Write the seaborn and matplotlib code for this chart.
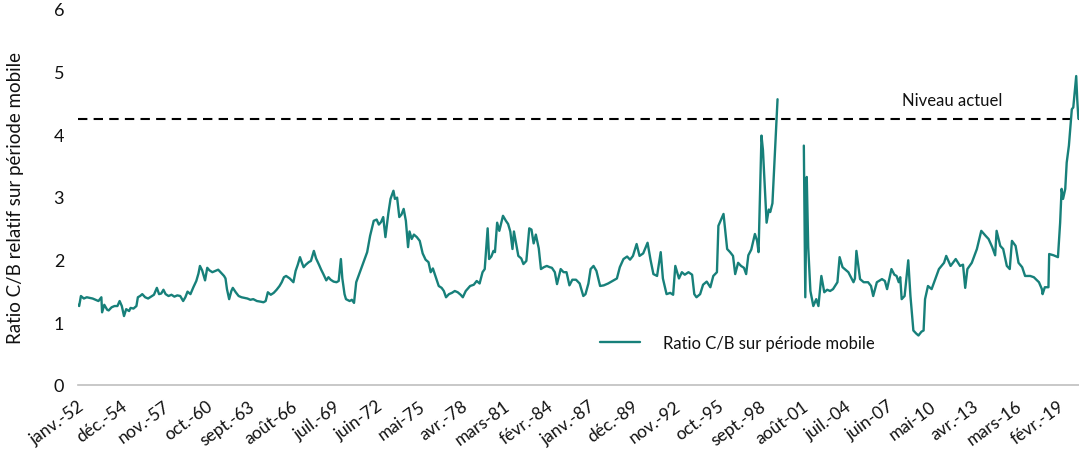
import numpy as np
import pandas as pd
import matplotlib
matplotlib.use("Agg")
import matplotlib.pyplot as plt
from matplotlib.lines import Line2D
import seaborn as sns

# ---------------- data (decimal years, ratio values) ----------------
dates_1950s_60s = [1952.00, 1952.08, 1952.2, 1952.4, 1952.6, 1952.8, 1953.0, 1953.2, 1953.4, 1953.6,
                   1953.65, 1953.8, 1954.0, 1954.1, 1954.3, 1954.5, 1954.7, 1954.85, 1955.0, 1955.15,
                   1955.3, 1955.5, 1955.6, 1955.8, 1956.0, 1956.1, 1956.25, 1956.4, 1956.6, 1956.8,
                   1957.0, 1957.2, 1957.4, 1957.55, 1957.7, 1957.85, 1958.0, 1958.2, 1958.4, 1958.6,
                   1958.8, 1959.0, 1959.2, 1959.35, 1959.5, 1959.7, 1959.9, 1960.1, 1960.25, 1960.35,
                   1960.5, 1960.7, 1960.85, 1961.0, 1961.2, 1961.4, 1961.6, 1961.8, 1962.0, 1962.1,
                   1962.2, 1962.35, 1962.5, 1962.6, 1962.8, 1963.0, 1963.2, 1963.4, 1963.6, 1963.8,
                   1964.0, 1964.25, 1964.5, 1964.7, 1964.85, 1965.0, 1965.2, 1965.4, 1965.6, 1965.8,
                   1965.95, 1966.1, 1966.25, 1966.5, 1966.75, 1966.9, 1967.05, 1967.2, 1967.35, 1967.45,
                   1967.6, 1967.8, 1967.95, 1968.15, 1968.3, 1968.5, 1968.65, 1968.8, 1969.0, 1969.15,
                   1969.3, 1969.5, 1969.7, 1969.85]
ratio_1950s_60s = [1.28, 1.26, 1.42, 1.38, 1.40, 1.39, 1.38, 1.36, 1.34, 1.40,
                   1.16, 1.28, 1.20, 1.19, 1.24, 1.26, 1.26, 1.34, 1.26, 1.10,
                   1.21, 1.18, 1.23, 1.22, 1.26, 1.40, 1.42, 1.45, 1.40, 1.38,
                   1.41, 1.44, 1.55, 1.45, 1.46, 1.52, 1.45, 1.42, 1.44, 1.41,
                   1.43, 1.42, 1.34, 1.40, 1.49, 1.45, 1.56, 1.66, 1.78, 1.90,
                   1.83, 1.67, 1.87, 1.83, 1.80, 1.82, 1.84, 1.79, 1.74, 1.70,
                   1.53, 1.37, 1.50, 1.55, 1.48, 1.42, 1.40, 1.39, 1.38, 1.36,
                   1.37, 1.34, 1.33, 1.32, 1.34, 1.48, 1.44, 1.47, 1.52, 1.58,
                   1.64, 1.72, 1.74, 1.70, 1.64, 1.82, 1.92, 2.04, 1.94, 1.88,
                   1.92, 1.96, 1.98, 2.14, 2.02, 1.92, 1.84, 1.77, 1.67, 1.72,
                   1.68, 1.65, 1.64, 1.66]

dates_1970s_80s = [1970.0, 1970.1, 1970.25, 1970.35, 1970.6, 1970.75, 1970.9, 1971.05, 1971.3, 1971.55,
                   1971.8, 1972.0, 1972.25, 1972.45, 1972.6, 1972.75, 1972.9, 1973.05, 1973.25, 1973.4,
                   1973.6, 1973.7, 1973.85, 1974.0, 1974.15, 1974.3, 1974.45, 1974.6, 1974.7, 1974.85,
                   1975.0, 1975.2, 1975.4, 1975.6, 1975.8, 1976.0, 1976.15, 1976.3, 1976.5, 1976.7,
                   1976.9, 1977.05, 1977.2, 1977.4, 1977.6, 1977.8, 1978.0, 1978.2, 1978.35, 1978.55,
                   1978.7, 1978.85, 1979.1, 1979.3, 1979.5, 1979.7, 1979.85, 1980.05, 1980.15, 1980.3,
                   1980.45, 1980.55, 1980.7, 1980.85, 1981.1, 1981.3, 1981.45, 1981.6, 1981.75, 1981.85,
                   1982.15, 1982.35, 1982.5, 1982.7, 1982.9, 1983.05, 1983.2, 1983.35, 1983.55, 1983.7,
                   1983.9, 1984.1, 1984.3, 1984.45, 1984.65, 1984.8, 1985.05, 1985.25, 1985.45, 1985.65,
                   1985.85, 1986.1, 1986.35, 1986.6, 1986.75, 1986.95, 1987.1, 1987.3, 1987.5, 1987.75,
                   1988.0, 1988.3, 1988.6, 1988.9, 1989.1, 1989.35, 1989.6, 1989.8]
ratio_1970s_80s = [2.01, 1.70, 1.45, 1.37, 1.34, 1.36, 1.31, 1.64, 1.80, 1.96,
                   2.12, 2.38, 2.62, 2.64, 2.56, 2.60, 2.68, 2.36, 2.74, 2.97,
                   3.10, 2.97, 2.99, 2.68, 2.72, 2.81, 2.62, 2.20, 2.45, 2.33,
                   2.40, 2.36, 2.30, 2.10, 2.00, 1.96, 1.80, 1.86, 1.72, 1.58,
                   1.55, 1.50, 1.40, 1.45, 1.47, 1.50, 1.48, 1.44, 1.40, 1.50,
                   1.54, 1.58, 1.60, 1.66, 1.62, 1.80, 1.85, 2.50, 2.01, 2.05,
                   2.14, 2.12, 2.59, 2.46, 2.70, 2.62, 2.57, 2.45, 2.17, 2.45,
                   2.06, 2.02, 1.93, 1.98, 2.50, 2.48, 2.26, 2.40, 2.18, 1.85,
                   1.88, 1.90, 1.88, 1.87, 1.80, 1.61, 1.85, 1.80, 1.80, 1.59,
                   1.68, 1.68, 1.62, 1.42, 1.45, 1.62, 1.85, 1.90, 1.82, 1.58,
                   1.59, 1.62, 1.66, 1.70, 1.88, 2.01, 2.05, 2.00]

dates_1990s = [1990.0, 1990.25, 1990.45, 1990.7, 1991.0, 1991.2, 1991.4, 1991.65, 1991.9, 1992.05,
               1992.3, 1992.55, 1992.75, 1992.9, 1993.15, 1993.35, 1993.55, 1993.8, 1994.05, 1994.2,
               1994.35, 1994.6, 1994.8, 1995.05, 1995.3, 1995.5, 1995.75, 1995.85, 1996.2, 1996.45,
               1996.65, 1996.85, 1997.0, 1997.2, 1997.4, 1997.6, 1997.75, 1997.9, 1998.1, 1998.35,
               1998.5, 1998.6, 1998.8, 1998.9, 1999.15, 1999.3, 1999.4, 1999.55, 1999.75, 1999.9]
ratio_1990s = [2.06, 2.25, 2.06, 2.10, 2.27, 2.00, 1.77, 1.74, 2.12, 1.70,
               1.45, 1.47, 1.44, 1.90, 1.70, 1.80, 1.76, 1.80, 1.76, 1.45,
               1.40, 1.45, 1.60, 1.65, 1.56, 1.74, 1.80, 2.54, 2.73, 2.17,
               2.12, 2.06, 1.77, 1.95, 1.90, 1.87, 1.77, 2.07, 2.16, 2.41,
               2.30, 2.12, 3.98, 3.75, 2.59, 2.80, 2.76, 2.90, 3.83, 4.56]

dates_2000s_10s = [2001.7, 2001.8, 2001.9, 2002.0, 2002.15, 2002.35, 2002.55, 2002.7, 2002.9, 2003.1,
                   2003.3, 2003.5, 2003.7, 2004.0, 2004.15, 2004.35, 2004.5, 2004.75, 2005.1, 2005.2,
                   2005.3, 2005.55, 2005.8, 2006.1, 2006.3, 2006.45, 2006.7, 2007.05, 2007.25, 2007.4,
                   2007.7, 2007.9, 2008.05, 2008.2, 2008.3, 2008.4, 2008.6, 2008.85, 2009.0, 2009.2,
                   2009.4, 2009.55, 2009.75, 2009.9, 2010.0, 2010.2, 2010.45, 2010.7, 2010.95, 2011.3,
                   2011.45, 2011.75, 2012.1, 2012.4, 2012.6, 2012.75, 2012.9, 2013.2, 2013.55, 2013.85,
                   2014.15, 2014.35, 2014.6, 2014.8, 2014.9, 2015.15, 2015.35, 2015.6, 2015.8, 2015.95,
                   2016.2, 2016.4, 2016.65, 2016.85, 2017.2, 2017.45, 2017.8, 2018.0, 2018.05, 2018.2,
                   2018.45, 2018.5, 2018.8, 2019.1, 2019.25, 2019.35, 2019.45, 2019.6, 2019.7, 2019.85,
                   2020.05, 2020.15, 2020.35, 2020.42, 2020.5]
ratio_2000s_10s = [3.82, 1.40, 3.32, 2.20, 1.50, 1.26, 1.37, 1.26, 1.74, 1.48,
                   1.52, 1.50, 1.53, 1.64, 2.04, 1.88, 1.85, 1.80, 1.64, 1.70,
                   2.14, 1.69, 1.64, 1.64, 1.58, 1.42, 1.64, 1.69, 1.66, 1.53,
                   1.85, 1.76, 1.74, 1.64, 1.72, 1.37, 1.42, 1.99, 1.42, 0.87,
                   0.82, 0.79, 0.85, 0.87, 1.37, 1.58, 1.53, 1.69, 1.85, 1.95,
                   2.06, 1.90, 2.01, 1.90, 1.92, 1.55, 1.85, 1.95, 2.17, 2.46,
                   2.38, 2.33, 2.20, 2.07, 2.46, 2.22, 2.17, 1.90, 1.85, 2.30,
                   2.22, 1.95, 1.88, 1.74, 1.74, 1.72, 1.64, 1.53, 1.45, 1.56,
                   1.56, 2.09, 2.07, 2.04, 2.59, 3.13, 2.97, 3.13, 3.55, 3.82,
                   4.40, 4.43, 4.93, 4.56, 4.25]

current_level = 4.25

tick_labels = ["janv.-52", "déc.-54", "nov.-57", "oct.-60", "sept.-63", "août-66", "juil.-69",
               "juin-72", "mai-75", "avr.-78", "mars-81", "févr.-84", "janv.-87", "déc.-89",
               "nov.-92", "oct.-95", "sept.-98", "août-01", "juil.-04", "juin-07", "mai-10",
               "avr.-13", "mars-16", "févr.-19"]
tick_step_months = 35

series_label = "Ratio C/B sur période mobile"
level_label = "Niveau actuel"
y_label = "Ratio C/B relatif sur période mobile"

# ---------------- build table ----------------
seg1_dates = dates_1950s_60s + dates_1970s_80s + dates_1990s
seg1_vals = ratio_1950s_60s + ratio_1970s_80s + ratio_1990s
df = pd.DataFrame({
    "date": seg1_dates + dates_2000s_10s,
    "ratio": seg1_vals + ratio_2000s_10s,
    "segment": [1] * len(seg1_dates) + [2] * len(dates_2000s_10s),
})
df["month"] = (df["date"] - 1952.0) * 12.0

# ---------------- style ----------------
sns.set_style("white")
plt.rcParams["font.family"] = ["Lato", "DejaVu Sans"]

teal = "#17807a"
text_col = "#111111"

fig = plt.figure(figsize=(10.79, 4.56), dpi=100)
ax = fig.add_axes([78 / 1079, (456 - 386) / 456, (1079 - 78) / 1079, (386 - 10) / 456])

sns.lineplot(data=df, x="month", y="ratio", units="segment", estimator=None,
             color=teal, linewidth=1.7, ax=ax, legend=False)

ax.axhline(current_level, color="black", linewidth=1.5, linestyle=(0, (4.5, 3)), zorder=1)

ax.set_xlim(0, 822.5)
ax.set_ylim(0, 6)
ax.set_yticks(range(0, 7))
ax.set_yticklabels([str(i) for i in range(0, 7)])
ax.tick_params(axis="y", length=0, pad=10, labelsize=13, labelcolor=text_col)

ticks = [i * tick_step_months for i in range(len(tick_labels))]
ax.set_xticks(ticks)
ax.set_xticklabels(tick_labels, rotation=36, ha="right", rotation_mode="anchor")
ax.tick_params(axis="x", length=5, width=1, color="#bfbfbf", direction="out",
               pad=4, labelsize=12.5, labelcolor=text_col)

for s in ["top", "right", "left"]:
    ax.spines[s].set_visible(False)
ax.spines["bottom"].set_color("#bfbfbf")
ax.spines["bottom"].set_linewidth(1.2)

ax.set_xlabel("")
ax.set_ylabel(y_label, fontsize=13.5, color=text_col)
ax.yaxis.set_label_coords(-0.054, 0.5)

ax.text(677, 4.55, level_label, fontsize=12, color=text_col, ha="left", va="center")

handle = Line2D([0], [0], color=teal, linewidth=1.7)
ax.legend([handle], [series_label], loc="center left", bbox_to_anchor=(0.521, 0.112),
          frameon=False, fontsize=12, handlelength=2.4, handletextpad=1.4,
          borderpad=0, borderaxespad=0, labelcolor=text_col)

fig.savefig("out.png", dpi=100)
